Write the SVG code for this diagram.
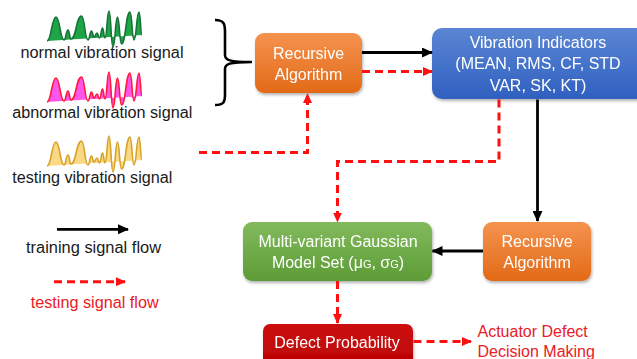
<svg xmlns="http://www.w3.org/2000/svg" width="637" height="359" viewBox="0 0 637 359">
<style>
.t{font-family:"Liberation Sans",Arial,sans-serif;font-size:16px}
.w{fill:#fff;text-anchor:middle}
.k{fill:#1a1a1a}
.r{fill:#e8201f}
.solid{fill:none;stroke:#000;stroke-width:2.8}
.dash{fill:none;stroke:#ff1010;stroke-width:3;stroke-dasharray:8,5}
</style>
<defs>
<linearGradient id="gO" x1="0" y1="0" x2="0" y2="1"><stop offset="0" stop-color="#f4934f"/><stop offset="1" stop-color="#e36a17"/></linearGradient>
<linearGradient id="gB" x1="0" y1="0" x2="0" y2="1"><stop offset="0" stop-color="#5b86d4"/><stop offset="1" stop-color="#3060c0"/></linearGradient>
<linearGradient id="gG" x1="0" y1="0" x2="0" y2="1"><stop offset="0" stop-color="#82ba5c"/><stop offset="1" stop-color="#5d9c37"/></linearGradient>
<linearGradient id="gR" x1="0" y1="0" x2="0" y2="1"><stop offset="0" stop-color="#cc1010"/><stop offset="1" stop-color="#b80000"/></linearGradient>
<filter id="sh" x="-10%" y="-10%" width="125%" height="130%"><feDropShadow dx="1" dy="2" stdDeviation="1.5" flood-color="#000" flood-opacity="0.3"/></filter>
<marker id="aK" markerUnits="userSpaceOnUse" markerWidth="11" markerHeight="10" refX="10" refY="5" orient="auto"><path d="M0,0 L11,5 L0,10 z" fill="#000"/></marker>
<marker id="aR" markerUnits="userSpaceOnUse" markerWidth="10" markerHeight="9" refX="9" refY="4.5" orient="auto"><path d="M0,0 L10,4.5 L0,9 z" fill="#ff1010"/></marker>
<path id="wf" d="M47,41 C51.5,41 51.5,17 56,17 C60,17 60,40 64,40 C66,40 66,30 68,30 C69.5,30 69.5,39 71,39 C76.25,39 76.25,16 81.5,16 C84.75,16 84.75,40 88,40 C89.75,40 89.75,31 91.5,31 C92.75,31 92.75,37 94,37 C95.5,37 95.5,33 97,33 C98.25,33 98.25,38 99.5,38 C101,38 101,28 102.5,28 C103.75,28 103.75,38 105,38 C107,38 107,11 109,11 C111,11 111,47 113,47 C115.25,47 115.25,17 117.5,17 C119.5,17 119.5,44 121.5,44 C125.75,44 125.75,12 130,12 C132,12 132,40 134,40 C136.5,40 136.5,12 139,12 C140.5,12 140.5,35 142,35 Z"/>
<path id="wl" d="M47,41 C51.5,41 51.5,17 56,17 C60,17 60,40 64,40 C66,40 66,30 68,30 C69.5,30 69.5,39 71,39 C76.25,39 76.25,16 81.5,16 C84.75,16 84.75,40 88,40 C89.75,40 89.75,31 91.5,31 C92.75,31 92.75,37 94,37 C95.5,37 95.5,33 97,33 C98.25,33 98.25,38 99.5,38 C101,38 101,28 102.5,28 C103.75,28 103.75,38 105,38 C107,38 107,11 109,11 C111,11 111,47 113,47 C115.25,47 115.25,17 117.5,17 C119.5,17 119.5,44 121.5,44 C125.75,44 125.75,12 130,12 C132,12 132,40 134,40 C136.5,40 136.5,12 139,12 C140.5,12 140.5,35 142,35"/>
</defs>
<rect width="637" height="359" fill="#fff"/>

<g id="normal-signal">
<use href="#wf" fill="#1ea546"/>
<use href="#wl" fill="none" stroke="#17733a" stroke-width="1.6"/>
<text class="t k" x="20.5" y="58.3" textLength="163" lengthAdjust="spacingAndGlyphs">normal vibration signal</text>
</g>
<g id="abnormal-signal" transform="translate(0,61)">
<use href="#wf" fill="#ff55ea"/>
<use href="#wl" fill="none" stroke="#ff1a3a" stroke-width="1.6"/>
</g>
<text class="t k" x="12.3" y="118.3" textLength="180" lengthAdjust="spacingAndGlyphs">abnormal vibration signal</text>
<g id="testing-signal" transform="translate(0,125)">
<use href="#wf" fill="#f9d983"/>
<use href="#wl" fill="none" stroke="#d6a22a" stroke-width="1.6"/>
</g>
<text class="t k" x="12.3" y="182.7" textLength="160" lengthAdjust="spacingAndGlyphs">testing vibration signal</text>

<path id="brace" d="M215,20 C224,20 225,24 225,32 L225,55 C225,60 229,62 252,62 C229,62 225,64 225,69 L225,94 C225,102 224,105 215,105" fill="none" stroke="#000" stroke-width="2.6"/>

<g id="recursive1" filter="url(#sh)">
<rect x="255" y="33" width="107" height="60" rx="9" fill="url(#gO)"/>
<text class="t w" x="308.5" y="59.3">Recursive</text>
<text class="t w" x="308.5" y="80">Algorithm</text>
</g>
<g id="indicators" filter="url(#sh)">
<rect x="432" y="28" width="220" height="71" rx="10" fill="url(#gB)"/>
<text class="t w" x="538" y="48.3">Vibration Indicators</text>
<text class="t w" x="538" y="69">(MEAN, RMS, CF, STD</text>
<text class="t w" x="538" y="90.7">VAR, SK, KT)</text>
</g>
<g id="gaussian" filter="url(#sh)">
<rect x="243" y="222" width="189" height="59" rx="9" fill="url(#gG)"/>
<text class="t w" x="338" y="246.7">Multi-variant Gaussian</text>
<text class="t w" x="338" y="268.3">Model Set (μ<tspan font-size="11">G</tspan>, σ<tspan font-size="11">G</tspan>)</text>
</g>
<g id="recursive2" filter="url(#sh)">
<rect x="483" y="222" width="108" height="59" rx="9" fill="url(#gO)"/>
<text class="t w" x="537" y="247.3">Recursive</text>
<text class="t w" x="537" y="268.3">Algorithm</text>
</g>
<g id="defect" filter="url(#sh)">
<rect x="263" y="324" width="150" height="50" rx="7" fill="url(#gR)"/>
<text class="t w" x="337" y="348.3">Defect Probability</text>
</g>
<g id="decision">
<text class="t r" x="477.5" y="336.7">Actuator Defect</text>
<text class="t r" x="477.5" y="356.7">Decision Making</text>
</g>

<g id="legend">
<path class="solid" d="M57,229.3 H128" marker-end="url(#aK)"/>
<text class="t k" x="26" y="252.7" textLength="135" lengthAdjust="spacingAndGlyphs">training signal flow</text>
<path class="dash" d="M54,281.7 H125" marker-end="url(#aR)"/>
<text class="t r" x="30.7" y="307.7" textLength="128" lengthAdjust="spacingAndGlyphs">testing signal flow</text>
</g>

<g id="connectors">
<path class="solid" d="M362,52.5 H432" marker-end="url(#aK)"/>
<path class="dash" d="M362,71.5 H432" marker-end="url(#aR)"/>
<path class="dash" d="M199,152.5 H307.5 V94" marker-end="url(#aR)"/>
<path class="dash" d="M499,99.5 V161.5 H337.5 V221.5" marker-end="url(#aR)"/>
<path class="solid" d="M537.5,99.5 V221" marker-end="url(#aK)"/>
<path class="solid" d="M483,251 H432.5" marker-end="url(#aK)"/>
<path class="dash" d="M337.5,281 V323" marker-end="url(#aR)"/>
<path class="dash" d="M413.5,341.5 H471" marker-end="url(#aR)"/>
</g>
</svg>
